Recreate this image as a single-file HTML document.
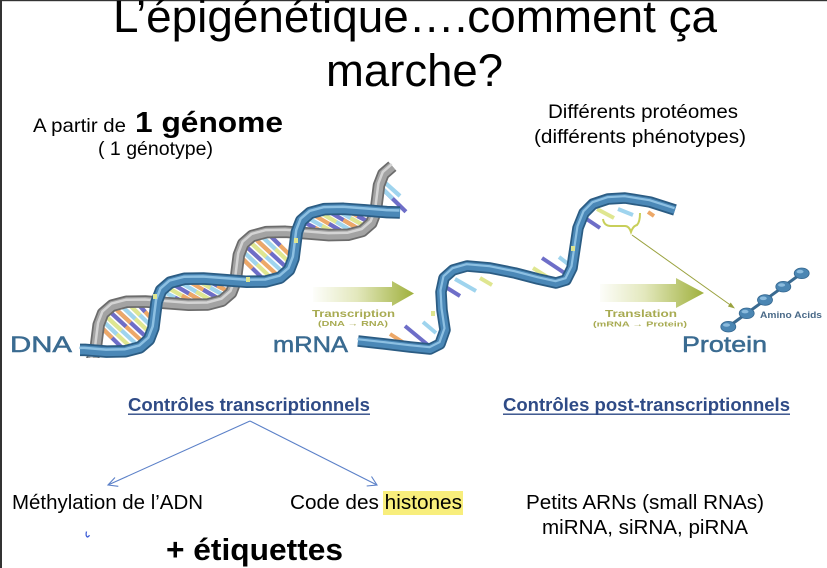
<!DOCTYPE html>
<html><head><meta charset="utf-8"><style>
html,body{margin:0;padding:0;background:#fff;}
svg{display:block;}
text{font-family:"Liberation Sans",Arial,sans-serif;}
</style></head><body>
<svg width="827" height="568" viewBox="0 0 827 568" xmlns="http://www.w3.org/2000/svg">
<defs>
<clipPath id="dnaclip"><rect x="0" y="150" width="420" height="208"/></clipPath>
<linearGradient id="g1" gradientUnits="userSpaceOnUse" x1="310" y1="0" x2="414" y2="0">
<stop offset="0" stop-color="#ffffff"/><stop offset="0.45" stop-color="#e3e8bd"/><stop offset="1" stop-color="#9fb03c"/></linearGradient>
<linearGradient id="g2" gradientUnits="userSpaceOnUse" x1="596" y1="0" x2="704" y2="0">
<stop offset="0" stop-color="#ffffff"/><stop offset="0.45" stop-color="#e3e8bd"/><stop offset="1" stop-color="#9fb03c"/></linearGradient>
</defs>
<rect width="827" height="568" fill="#fff"/>
<rect x="0" y="0" width="827" height="1.2" fill="#333"/>
<rect x="0" y="0" width="2" height="568" fill="#333"/>

<!-- Title -->
<text x="113" y="32" font-size="45" textLength="604" lengthAdjust="spacingAndGlyphs" fill="#000">L’épigénétique….comment ça</text>
<text x="326" y="86" font-size="45" textLength="177" lengthAdjust="spacingAndGlyphs" fill="#000">marche?</text>

<!-- Top left / right labels -->
<text x="33" y="132" font-size="19.5" textLength="93" lengthAdjust="spacingAndGlyphs">A partir de</text>
<text x="135" y="132" font-size="29" font-weight="bold" textLength="148" lengthAdjust="spacingAndGlyphs">1 génome</text>
<text x="98" y="155" font-size="19.5" textLength="115" lengthAdjust="spacingAndGlyphs">( 1 génotype)</text>
<text x="548" y="118" font-size="19.5" textLength="190" lengthAdjust="spacingAndGlyphs">Différents protéomes</text>
<text x="534" y="143" font-size="19.5" textLength="212" lengthAdjust="spacingAndGlyphs">(différents phénotypes)</text>

<!-- DNA helix -->
<g clip-path="url(#dnaclip)" stroke-linecap="butt">
<g stroke-width="4.2" fill="none">
<path d="M98.68,324.7 L125.6,351.2" stroke="#6e6ec8"/><path d="M98.68,324.7 L125.6,351.2" pathLength="2" stroke-dasharray="1 3" stroke="#eda868"/>
<path d="M100.86,319.05 L132.78,349.3" stroke="#dfe690"/><path d="M100.86,319.05 L132.78,349.3" pathLength="2" stroke-dasharray="1 3" stroke="#9fd4ee"/>
<path d="M103.04,313.4 L139.96,347.4" stroke="#9fd4ee"/><path d="M103.04,313.4 L139.96,347.4" pathLength="2" stroke-dasharray="1 3" stroke="#dfe690"/>
<path d="M107.54,309.5 L144.46,343.5" stroke="#eda868"/><path d="M107.54,309.5 L144.46,343.5" pathLength="2" stroke-dasharray="1 3" stroke="#6e6ec8"/>
<path d="M112.04,305.6 L148.96,339.6" stroke="#6e6ec8"/><path d="M112.04,305.6 L148.96,339.6" pathLength="2" stroke-dasharray="1 3" stroke="#eda868"/>
<path d="M119.22,303.7 L151.14,333.95" stroke="#dfe690"/><path d="M119.22,303.7 L151.14,333.95" pathLength="2" stroke-dasharray="1 3" stroke="#9fd4ee"/>
<path d="M126.4,301.8 L153.32,328.3" stroke="#9fd4ee"/><path d="M126.4,301.8 L153.32,328.3" pathLength="2" stroke-dasharray="1 3" stroke="#dfe690"/>
<path d="M135.9,301.65 L154.16,321.65" stroke="#eda868"/><path d="M135.9,301.65 L154.16,321.65" pathLength="2" stroke-dasharray="1 3" stroke="#6e6ec8"/>

<path d="M188.76,304.8 L161.04,290.4" stroke="#9fd4ee"/><path d="M188.76,304.8 L161.04,290.4" pathLength="2" stroke-dasharray="1 3" stroke="#6e6ec8"/>
<path d="M198.26,304.65 L165.54,286.5" stroke="#dfe690"/><path d="M198.26,304.65 L165.54,286.5" pathLength="2" stroke-dasharray="1 3" stroke="#eda868"/>
<path d="M207.76,304.5 L170.04,282.6" stroke="#6e6ec8"/><path d="M207.76,304.5 L170.04,282.6" pathLength="2" stroke-dasharray="1 3" stroke="#eda868"/>
<path d="M214.94,302.6 L177.22,280.7" stroke="#9fd4ee"/><path d="M214.94,302.6 L177.22,280.7" pathLength="2" stroke-dasharray="1 3" stroke="#dfe690"/>
<path d="M222.12,300.7 L184.4,278.8" stroke="#eda868"/><path d="M222.12,300.7 L184.4,278.8" pathLength="2" stroke-dasharray="1 3" stroke="#6e6ec8"/>
<path d="M226.62,296.8 L193.9,278.65" stroke="#dfe690"/><path d="M226.62,296.8 L193.9,278.65" pathLength="2" stroke-dasharray="1 3" stroke="#9fd4ee"/>
<path d="M231.12,292.9 L203.4,278.5" stroke="#6e6ec8"/><path d="M231.12,292.9 L203.4,278.5" pathLength="2" stroke-dasharray="1 3" stroke="#eda868"/>

<path d="M238.84,255 L265.76,281.5" stroke="#6e6ec8"/><path d="M238.84,255 L265.76,281.5" pathLength="2" stroke-dasharray="1 3" stroke="#eda868"/>
<path d="M241.02,249.35 L272.94,279.6" stroke="#dfe690"/><path d="M241.02,249.35 L272.94,279.6" pathLength="2" stroke-dasharray="1 3" stroke="#9fd4ee"/>
<path d="M243.2,243.7 L280.12,277.7" stroke="#eda868"/><path d="M243.2,243.7 L280.12,277.7" pathLength="2" stroke-dasharray="1 3" stroke="#6e6ec8"/>
<path d="M247.7,239.8 L284.62,273.8" stroke="#9fd4ee"/><path d="M247.7,239.8 L284.62,273.8" pathLength="2" stroke-dasharray="1 3" stroke="#dfe690"/>
<path d="M252.2,235.9 L289.12,269.9" stroke="#6e6ec8"/><path d="M252.2,235.9 L289.12,269.9" pathLength="2" stroke-dasharray="1 3" stroke="#eda868"/>
<path d="M259.38,234 L291.3,264.25" stroke="#dfe690"/><path d="M259.38,234 L291.3,264.25" pathLength="2" stroke-dasharray="1 3" stroke="#9fd4ee"/>
<path d="M266.56,232.1 L293.48,258.6" stroke="#eda868"/><path d="M266.56,232.1 L293.48,258.6" pathLength="2" stroke-dasharray="1 3" stroke="#6e6ec8"/>

<path d="M328.92,235.1 L301.2,220.7" stroke="#6e6ec8"/><path d="M328.92,235.1 L301.2,220.7" pathLength="2" stroke-dasharray="1 3" stroke="#eda868"/>
<path d="M338.42,234.95 L305.7,216.8" stroke="#9fd4ee"/><path d="M338.42,234.95 L305.7,216.8" pathLength="2" stroke-dasharray="1 3" stroke="#dfe690"/>
<path d="M347.92,234.8 L310.2,212.9" stroke="#eda868"/><path d="M347.92,234.8 L310.2,212.9" pathLength="2" stroke-dasharray="1 3" stroke="#6e6ec8"/>
<path d="M355.1,232.9 L317.38,211" stroke="#dfe690"/><path d="M355.1,232.9 L317.38,211" pathLength="2" stroke-dasharray="1 3" stroke="#9fd4ee"/>
<path d="M362.28,231 L324.56,209.1" stroke="#6e6ec8"/><path d="M362.28,231 L324.56,209.1" pathLength="2" stroke-dasharray="1 3" stroke="#eda868"/>
<path d="M366.78,227.1 L334.06,208.95" stroke="#9fd4ee"/><path d="M366.78,227.1 L334.06,208.95" pathLength="2" stroke-dasharray="1 3" stroke="#dfe690"/>
<path d="M371.28,223.2 L343.56,208.8" stroke="#eda868"/><path d="M371.28,223.2 L343.56,208.8" pathLength="2" stroke-dasharray="1 3" stroke="#6e6ec8"/>

<path d="M379,185.3 L405.92,211.8" stroke="#6e6ec8"/><path d="M379,185.3 L405.92,211.8" pathLength="2" stroke-dasharray="1 3" stroke="#9fd4ee"/>
<path d="M381,179 L400,196" stroke="#9fd4ee"/>
</g>
<!-- gray strand -->
<g fill="none" stroke-linejoin="round">
<path d="M81.96,370.4 L90.96,362.6 L95.32,351.3 L97,338 L98.68,324.7 L103.04,313.4 L112.04,305.6 L126.4,301.8 L145.4,301.5 L167.08,303.1 L188.76,304.8 L207.76,304.5 L222.12,300.7 L231.12,292.9 L235.48,281.6 L237.16,268.3 L238.84,255 L243.2,243.7 L252.2,235.9 L266.56,232.1 L285.56,231.8 L307.24,233.4 L328.92,235.1 L347.92,234.8 L362.28,231 L371.28,223.2 L375.64,211.9 L377.32,198.6 L379,185.3 L383.36,174 L392.36,166.2" stroke="#6c6c6c" stroke-width="12.5"/>
<path d="M81.96,370.4 L90.96,362.6 L95.32,351.3 L97,338 L98.68,324.7 L103.04,313.4 L112.04,305.6 L126.4,301.8 L145.4,301.5 L167.08,303.1 L188.76,304.8 L207.76,304.5 L222.12,300.7 L231.12,292.9 L235.48,281.6 L237.16,268.3 L238.84,255 L243.2,243.7 L252.2,235.9 L266.56,232.1 L285.56,231.8 L307.24,233.4 L328.92,235.1 L347.92,234.8 L362.28,231 L371.28,223.2 L375.64,211.9 L377.32,198.6 L379,185.3 L383.36,174 L392.36,166.2" stroke="#a3a3a3" stroke-width="9"/>
<path transform="translate(-0.6,-2)" d="M81.96,370.4 L90.96,362.6 L95.32,351.3 L97,338 L98.68,324.7 L103.04,313.4 L112.04,305.6 L126.4,301.8 L145.4,301.5 L167.08,303.1 L188.76,304.8 L207.76,304.5 L222.12,300.7 L231.12,292.9 L235.48,281.6 L237.16,268.3 L238.84,255 L243.2,243.7 L252.2,235.9 L266.56,232.1 L285.56,231.8 L307.24,233.4 L328.92,235.1 L347.92,234.8 L362.28,231 L371.28,223.2 L375.64,211.9 L377.32,198.6 L379,185.3 L383.36,174 L392.36,166.2" stroke="#d4d4d4" stroke-width="2.5"/>
</g>
<!-- blue strand -->
<g fill="none" stroke-linejoin="round">
<path d="M80,349.9 L84.92,349.9 L106.6,351.6 L125.6,351.2 L139.96,347.4 L148.96,339.6 L153.32,328.3 L155,315 L156.68,301.7 L161.04,290.4 L170.04,282.6 L184.4,278.8 L203.4,278.5 L225.08,280.1 L246.76,281.8 L265.76,281.5 L280.12,277.7 L289.12,269.9 L293.48,258.6 L295.16,245.3 L296.84,232 L301.2,220.7 L310.2,212.9 L324.56,209.1 L343.56,208.8 L365.24,210.4 L386.92,212.1 L400,212.5" stroke="#2b5c83" stroke-width="12.5"/>
<path d="M80,349.9 L84.92,349.9 L106.6,351.6 L125.6,351.2 L139.96,347.4 L148.96,339.6 L153.32,328.3 L155,315 L156.68,301.7 L161.04,290.4 L170.04,282.6 L184.4,278.8 L203.4,278.5 L225.08,280.1 L246.76,281.8 L265.76,281.5 L280.12,277.7 L289.12,269.9 L293.48,258.6 L295.16,245.3 L296.84,232 L301.2,220.7 L310.2,212.9 L324.56,209.1 L343.56,208.8 L365.24,210.4 L386.92,212.1 L400,212.5" stroke="#4b88b7" stroke-width="9"/>
<path transform="translate(-0.6,-2)" d="M80,349.9 L84.92,349.9 L106.6,351.6 L125.6,351.2 L139.96,347.4 L148.96,339.6 L153.32,328.3 L155,315 L156.68,301.7 L161.04,290.4 L170.04,282.6 L184.4,278.8 L203.4,278.5 L225.08,280.1 L246.76,281.8 L265.76,281.5 L280.12,277.7 L289.12,269.9 L293.48,258.6 L295.16,245.3 L296.84,232 L301.2,220.7 L310.2,212.9 L324.56,209.1 L343.56,208.8 L365.24,210.4 L386.92,212.1 L400,212.5" stroke="#8dc0e2" stroke-width="2.5"/>
</g>
<g fill="#dfe690"><rect x="153" y="294" width="4" height="5"/><rect x="246" y="277" width="4" height="5"/><rect x="294" y="238" width="4" height="5"/></g>
</g>

<!-- labels DNA / mRNA / Protein -->
<g fill="#3a6b91" stroke="#3a6b91" stroke-width="0.5">
<text x="10" y="352" font-size="22" textLength="62" lengthAdjust="spacingAndGlyphs">DNA</text>
<text x="273" y="352" font-size="22" textLength="75" lengthAdjust="spacingAndGlyphs">mRNA</text>
<text x="682" y="352" font-size="22" textLength="85" lengthAdjust="spacingAndGlyphs">Protein</text>
</g>

<!-- Transcription arrow -->
<polygon points="313,287 392,287 392,281 414,293.5 392,306 392,302 313,302" fill="url(#g1)"/>
<text x="312" y="317" font-size="10.5" font-weight="bold" fill="#a8ab52" textLength="83" lengthAdjust="spacingAndGlyphs">Transcription</text>
<text x="318" y="326" font-size="7.5" font-weight="bold" fill="#a8ab52" textLength="70" lengthAdjust="spacingAndGlyphs">(DNA → RNA)</text>

<!-- mRNA sticks -->
<g stroke-width="4" stroke-linecap="butt">
<path d="M390,334 L412,348" stroke="#eda868"/>
<path d="M405,326 L428,345" stroke="#6e6ec8"/>
<path d="M423,322 L436,333" stroke="#9fd4ee"/>
<path d="M444,286 L460,296" stroke="#6e6ec8"/>
<path d="M455,279 L476,291" stroke="#9fd4ee"/>
<path d="M480,278 L492,285" stroke="#dfe690"/>
<path d="M533,268 L552,280" stroke="#dfe690"/>
<path d="M542,258 L566,274" stroke="#6e6ec8"/>
<path d="M559,257 L572,267" stroke="#9fd4ee"/>
<path d="M585,218 L600,228" stroke="#6e6ec8"/>
<path d="M597,209 L614,218" stroke="#dfe690"/>
<path d="M618,209 L633,215" stroke="#9fd4ee"/>
<path d="M648,212 L654,216" stroke="#eda868"/>
</g>
<!-- mRNA strand -->
<g fill="none" stroke-linejoin="round">
<path d="M358,341 L385,344 L410,347 L430,349 L440,344 L445,330 L442,310 L441,292 L444,278 L453,270 L467,266 L490,268 L515,273 L538,279 L556,283 L566,280 L572,268 L575,248 L578,228 L584,213 L593,204 L608,199 L625,198 L650,202 L675,210" stroke="#2b5c83" stroke-width="11.5"/>
<path d="M358,341 L385,344 L410,347 L430,349 L440,344 L445,330 L442,310 L441,292 L444,278 L453,270 L467,266 L490,268 L515,273 L538,279 L556,283 L566,280 L572,268 L575,248 L578,228 L584,213 L593,204 L608,199 L625,198 L650,202 L675,210" stroke="#4b88b7" stroke-width="8"/>
<path transform="translate(-0.5,-1.8)" d="M358,341 L385,344 L410,347 L430,349 L440,344 L445,330 L442,310 L441,292 L444,278 L453,270 L467,266 L490,268 L515,273 L538,279 L556,283 L566,280 L572,268 L575,248 L578,228 L584,213 L593,204 L608,199 L625,198 L650,202 L675,210" stroke="#8dc0e2" stroke-width="2.2"/>
</g>
<g fill="#dfe690"><rect x="431" y="311" width="4" height="5"/><rect x="571" y="246" width="4" height="5"/></g>

<!-- codon bracket & arrow to protein -->
<path d="M603,219 Q604,226 611,226 L625,226 Q629,226 631,232 Q633,226 637,225 Q640,222 640,213" fill="none" stroke="#c8cf5a" stroke-width="2"/>
<line x1="632" y1="235" x2="731" y2="305.5" stroke="#9aa23e" stroke-width="1"/>
<polygon points="735,308.5 727.9,306.5 730.7,302.5" fill="#9aa23e"/>

<!-- Translation arrow -->
<polygon points="600,284 676,284 676,278 704,293 676,308 676,302 600,302" fill="url(#g2)"/>
<text x="605" y="317" font-size="10.5" font-weight="bold" fill="#a8ab52" textLength="72" lengthAdjust="spacingAndGlyphs">Translation</text>
<text x="593" y="326.5" font-size="7.5" font-weight="bold" fill="#a8ab52" textLength="94" lengthAdjust="spacingAndGlyphs">(mRNA → Protein)</text>

<!-- Protein beads -->
<line x1="728" y1="327" x2="802" y2="273" stroke="#3a6a90" stroke-width="3"/>
<g fill="#4b86b3" stroke="#35678f" stroke-width="0.8">
<ellipse cx="728.3" cy="326.7" rx="7.5" ry="5.3"/>
<ellipse cx="746.7" cy="313.3" rx="7.5" ry="5.3"/>
<ellipse cx="765" cy="300" rx="7.5" ry="5.3"/>
<ellipse cx="783.3" cy="286.7" rx="7.5" ry="5.3"/>
<ellipse cx="801.7" cy="273.3" rx="7.5" ry="5.3"/>
</g>
<g fill="#8bbbdd">
<ellipse cx="726.5" cy="325" rx="3.5" ry="1.8"/>
<ellipse cx="745" cy="311.6" rx="3.5" ry="1.8"/>
<ellipse cx="763.3" cy="298.3" rx="3.5" ry="1.8"/>
<ellipse cx="781.6" cy="285" rx="3.5" ry="1.8"/>
<ellipse cx="800" cy="271.6" rx="3.5" ry="1.8"/>
</g>
<text x="760" y="318" font-size="9" font-weight="bold" fill="#4a6a88" textLength="62" lengthAdjust="spacingAndGlyphs">Amino Acids</text>

<!-- Controls headers -->
<text x="128" y="411" font-size="18" font-weight="bold" fill="#2f4b86" textLength="242" lengthAdjust="spacingAndGlyphs">Contrôles transcriptionnels</text>
<rect x="128" y="413.5" width="242" height="1.4" fill="#2f4b86"/>
<text x="503" y="411" font-size="18" font-weight="bold" fill="#2f4b86" textLength="287" lengthAdjust="spacingAndGlyphs">Contrôles post-transcriptionnels</text>
<rect x="503" y="413.5" width="287" height="1.4" fill="#2f4b86"/>

<!-- branch arrows -->
<g stroke="#5b80c8" stroke-width="1.1" fill="none">
<line x1="250" y1="421" x2="108" y2="485"/>
<polyline points="115,477.5 108,485 118.3,486.3"/>
<line x1="250" y1="421" x2="377" y2="485"/>
<polyline points="366.7,486 377,485 371.5,476.5"/>
</g>

<!-- bottom texts -->
<text x="12" y="509" font-size="20" textLength="191" lengthAdjust="spacingAndGlyphs">Méthylation de l’ADN</text>
<rect x="383" y="491" width="80" height="24" fill="#f8ee7c"/>
<text x="290" y="509" font-size="20" textLength="172" lengthAdjust="spacingAndGlyphs">Code des histones</text>
<text x="526" y="509" font-size="20" textLength="238" lengthAdjust="spacingAndGlyphs">Petits ARNs (small RNAs)</text>
<text x="542" y="534" font-size="20" textLength="206" lengthAdjust="spacingAndGlyphs">miRNA, siRNA, piRNA</text>
<path d="M86.5,531.5 Q85.3,536 87.5,537 Q88.8,536.6 89.5,535.2" fill="none" stroke="#3f5fd8" stroke-width="1.3"/>
<text x="166" y="560" font-size="31" font-weight="bold" textLength="177" lengthAdjust="spacingAndGlyphs">+ étiquettes</text>
</svg>
</body></html>
